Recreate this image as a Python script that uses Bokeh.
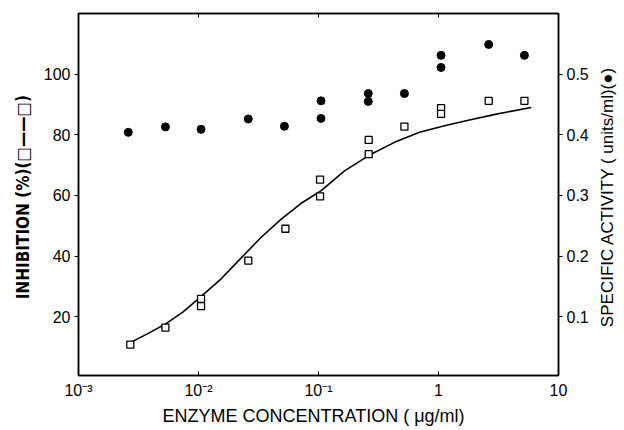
from bokeh.plotting import figure
from bokeh.layouts import row
from bokeh.models import (LinearAxis, LogAxis, Range1d, FixedTicker)
from bokeh.embed import file_html
from bokeh.resources import INLINE

# Inhibition (%) – open squares
inh_x = [0.0027, 0.0053, 0.0105, 0.0105, 0.026, 0.053, 0.103, 0.103,
         0.262, 0.262, 0.52, 1.05, 1.05, 2.62, 5.2]
inh_y = [10.8, 16.4, 25.9, 23.5, 38.5, 49.0, 65.2, 59.7,
         78.3, 73.6, 82.7, 88.8, 86.9, 91.2, 91.2]

# Fitted inhibition curve
fit_x = [0.00275, 0.00378, 0.00521, 0.0074, 0.01053, 0.01545, 0.0227,
         0.0333, 0.0489, 0.0718, 0.1053, 0.1647, 0.266, 0.43, 0.695,
         1.122, 1.81, 3.03, 5.92]
fit_y = [11.6, 14.4, 17.4, 21.5, 26.7, 32.5, 39.4,
         46.2, 52.2, 57.4, 61.6, 68.1, 73.3, 77.5, 80.8,
         83.0, 84.9, 86.8, 89.0]

# Specific activity (units/ml) – filled circles
act_x = [0.0026, 0.0053, 0.0105, 0.026, 0.052, 0.105, 0.105,
         0.26, 0.26, 0.52, 1.05, 1.05, 2.62, 5.2]
act_y = [0.404, 0.413, 0.409, 0.426, 0.414, 0.427, 0.456,
         0.468, 0.455, 0.468, 0.531, 0.511, 0.549, 0.531]

x_ticks = [0.001, 0.01, 0.1, 1, 10]
x_tick_labels = ["10\u207b\u00b3", "10\u207b\u00b2", "10\u207b\u00b9", "1", "10"]
left_ticks = [20, 40, 60, 80, 100]
right_ticks = [0.1, 0.2, 0.3, 0.4, 0.5]
right_tick_labels = ["0.1", "0.2", "0.3", "0.4", "0.5"]
right_title = "SPECIFIC  ACTIVITY ( units/ml)(\u25cf)"

FONT = "Liberation Sans"

p = figure(width=594, height=430, x_axis_type="log",
           x_range=Range1d(0.001, 10), y_range=Range1d(0.6, 120),
           output_backend="svg", toolbar_location=None,
           min_border_left=78, min_border_right=36,
           min_border_top=13, min_border_bottom=55)
p.background_fill_color = "white"
p.border_fill_color = "white"
p.outline_line_color = "black"
p.outline_line_width = 1.5
p.xgrid.visible = False
p.ygrid.visible = False
p.extra_y_ranges = {"act": Range1d(0.6 / 200, 120 / 200)}

# bottom axis
xa = p.xaxis[0]
xa.ticker = FixedTicker(ticks=x_ticks)
xa.major_label_overrides = {t: l for t, l in zip(x_ticks, x_tick_labels)}
xa.major_tick_in = 4
xa.major_tick_out = 0
xa.minor_tick_line_color = None
xa.axis_line_width = 1.5
xa.axis_line_color = "black"
xa.major_tick_line_color = "black"
xa.major_label_text_font = FONT
xa.major_label_text_font_size = "16px"
xa.major_label_text_color = "black"
xa.major_label_standoff = 6
xa.axis_label = "ENZYME  CONCENTRATION  ( \u03bcg/ml)"
xa.axis_label_text_font = FONT
xa.axis_label_text_font_style = "normal"
xa.axis_label_text_font_size = "18px"
xa.axis_label_text_color = "black"
xa.axis_label_standoff = 4

# top axis (frame with inward ticks, no labels)
ta = LogAxis(ticker=FixedTicker(ticks=x_ticks),
             major_label_overrides={t: " " for t in x_ticks},
             major_label_text_font_size="1px", major_label_standoff=0,
             major_tick_in=4, major_tick_out=0, minor_tick_line_color=None,
             axis_line_width=1.5)
p.add_layout(ta, "above")

# left axis
ya = p.yaxis[0]
ya.ticker = FixedTicker(ticks=left_ticks)
ya.major_tick_in = 0
ya.major_tick_out = 4
ya.minor_tick_line_color = None
ya.axis_line_width = 1.5
ya.major_label_text_font = FONT
ya.major_label_text_font_size = "16px"
ya.major_label_text_color = "black"
ya.major_label_standoff = 4
ya.axis_label = "INHIBITION  (%)(\u25a1\u2014\u2014\u25a1)"
ya.axis_label_text_font = "DejaVu Sans Condensed"
ya.axis_label_text_font_style = "bold"
ya.axis_label_text_font_size = "17px"
ya.axis_label_text_color = "black"
ya.axis_label_standoff = 8

# right axis
ra = LinearAxis(y_range_name="act", ticker=FixedTicker(ticks=right_ticks))
ra.major_label_overrides = {t: l for t, l in zip(right_ticks, right_tick_labels)}
ra.major_tick_in = 0
ra.major_tick_out = 4
ra.minor_tick_line_color = None
ra.axis_line_width = 1.5
ra.major_label_text_font = FONT
ra.major_label_text_font_size = "16px"
ra.major_label_text_color = "black"
ra.major_label_standoff = 4
p.add_layout(ra, "right")

p.line(fit_x, fit_y, line_color="black", line_width=1.6)
p.scatter(inh_x, inh_y, marker="square", size=7, fill_color="white",
          line_color="black", line_width=1.3)
p.scatter(act_x, act_y, y_range_name="act", marker="circle", size=8,
          fill_color="black", line_color="black")

# narrow strip carrying the right-hand title (reads bottom to top)
p2 = figure(width=30, height=430, x_range=Range1d(0, 1), y_range=p.y_range,
            output_backend="svg", toolbar_location=None, x_axis_location=None,
            min_border_left=16, min_border_right=0,
            min_border_top=13, min_border_bottom=55)
p2.outline_line_color = None
p2.background_fill_color = "white"
p2.border_fill_color = "white"
p2.xgrid.visible = False
p2.ygrid.visible = False
t2 = p2.yaxis[0]
t2.ticker = FixedTicker(ticks=[])
t2.axis_line_color = None
t2.major_tick_line_color = None
t2.minor_tick_line_color = None
t2.axis_label = right_title
t2.axis_label_text_font = FONT
t2.axis_label_text_font_style = "normal"
t2.axis_label_text_font_size = "17px"
t2.axis_label_text_color = "black"
t2.axis_label_standoff = 0

layout = row(p, p2)
open("out.html", "w").write(file_html(layout, INLINE))
